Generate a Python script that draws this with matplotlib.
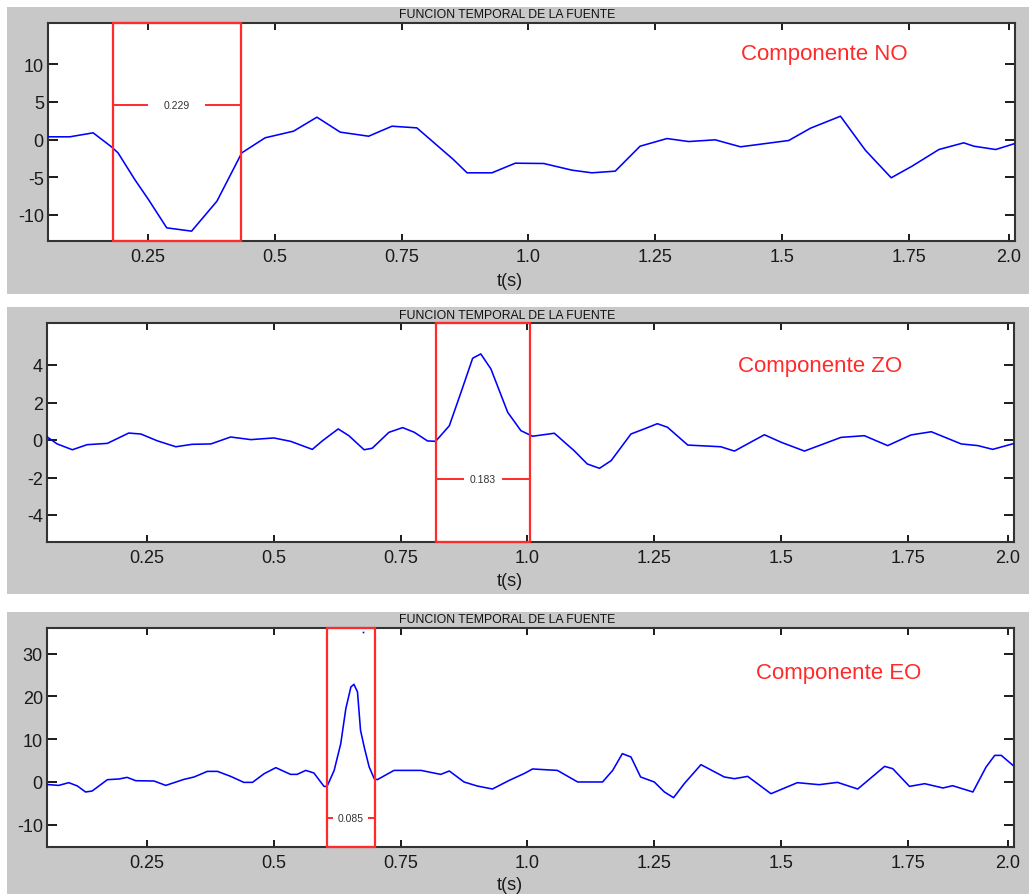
import matplotlib
matplotlib.use('Agg')
import matplotlib.pyplot as plt
from matplotlib.patches import Rectangle

plt.rcParams['font.family'] = ['Liberation Sans', 'DejaVu Sans']
plt.rcParams['axes.unicode_minus'] = False

# ---------------- data ----------------
# Componente NO
t_no = [0.052, 0.096, 0.142, 0.178, 0.191, 0.224, 0.251, 0.287, 0.336, 0.386,
        0.435, 0.481, 0.537, 0.583, 0.629, 0.685, 0.731, 0.780, 0.852, 0.879,
        0.928, 0.974, 1.030, 1.086, 1.125, 1.171, 1.220, 1.273, 1.316, 1.368,
        1.418, 1.513, 1.556, 1.615, 1.664, 1.715, 1.756, 1.809, 1.858, 1.878,
        1.921, 1.957]
a_no = [0.36, 0.36, 0.89, -0.97, -1.77, -5.32, -7.98, -11.75, -12.19, -8.2,
        -1.77, 0.23, 1.11, 2.97, 0.98, 0.44, 1.77, 1.55, -2.66, -4.43,
        -4.43, -3.15, -3.19, -4.08, -4.43, -4.21, -0.89, 0.13, -0.27, -0.04,
        -0.97, -0.13, 1.51, 3.10, -1.42, -5.09, -3.55, -1.33, -0.44, -0.89,
        -1.33, -0.57]

# Componente ZO
t_zo = [0.050, 0.073, 0.103, 0.132, 0.172, 0.214, 0.238, 0.270, 0.307, 0.339,
        0.376, 0.415, 0.455, 0.500, 0.533, 0.576, 0.596, 0.627, 0.648, 0.678,
        0.694, 0.727, 0.754, 0.777, 0.803, 0.819, 0.846, 0.869, 0.892, 0.908,
        0.928, 0.961, 0.987, 1.010, 1.053, 1.092, 1.118, 1.142, 1.165, 1.204,
        1.230, 1.256, 1.276, 1.316, 1.381, 1.408, 1.467, 1.500, 1.546, 1.618,
        1.664, 1.710, 1.756, 1.796, 1.855, 1.888, 1.917, 1.957]
a_zo = [0.23, -0.21, -0.52, -0.25, -0.18, 0.37, 0.32, -0.04, -0.36, -0.23,
        -0.21, 0.16, 0.02, 0.11, -0.07, -0.50, -0.04, 0.59, 0.23, -0.52,
        -0.44, 0.41, 0.66, 0.41, -0.05, -0.07, 0.76, 2.54, 4.36, 4.59,
        3.79, 1.48, 0.50, 0.20, 0.36, -0.57, -1.28, -1.51, -1.10, 0.32,
        0.59, 0.87, 0.68, -0.27, -0.36, -0.59, 0.28, -0.12, -0.59, 0.14,
        0.23, -0.30, 0.27, 0.44, -0.21, -0.30, -0.50, -0.20]

# Componente EO
t_eo = [0.050, 0.076, 0.096, 0.113, 0.129, 0.142, 0.172, 0.195, 0.211, 0.228,
        0.264, 0.287, 0.323, 0.343, 0.369, 0.389, 0.415, 0.441, 0.458, 0.481,
        0.504, 0.533, 0.546, 0.563, 0.579, 0.599, 0.605, 0.619, 0.632, 0.642,
        0.652, 0.658, 0.665, 0.671, 0.679, 0.688, 0.698, 0.704, 0.737, 0.763,
        0.790, 0.829, 0.846, 0.875, 0.901, 0.931, 0.964, 0.994, 1.010, 1.059,
        1.099, 1.148, 1.168, 1.187, 1.204, 1.223, 1.250, 1.270, 1.288, 1.309,
        1.342, 1.388, 1.408, 1.434, 1.480, 1.532, 1.575, 1.611, 1.651, 1.704,
        1.720, 1.753, 1.783, 1.819, 1.838, 1.878, 1.904, 1.921, 1.934, 1.957]
a_eo = [-0.56, -0.8, -0.16, -0.94, -2.34, -2.11, 0.54, 0.70, 1.08, 0.30,
        0.23, -0.8, 0.61, 1.17, 2.48, 2.48, 1.31, -0.09, -0.09, 1.94,
        3.35, 1.78, 1.78, 2.71, 2.11, -1.03, -1.03, 2.71, 8.96, 17.15,
        22.22, 22.83, 21.05, 12.07, 7.79, 3.51, 0.77, 0.54, 2.71, 2.71,
        2.71, 1.78, 2.57, 0.0, -0.94, -1.64, 0.37, 2.0, 3.04, 2.71,
        0.0, 0.0, 2.71, 6.62, 5.85, 1.17, 0.0, -2.34, -3.67, -0.40,
        4.05, 1.17, 0.77, 1.31, -2.74, -0.16, -0.63, -0.09, -1.64, 3.65,
        3.11, -1.03, -0.40, -1.40, -0.87, -2.34, 3.51, 6.22, 6.22, 3.88]
eo_dot = (0.676, 35.1)

names = ['Componente NO', 'Componente ZO', 'Componente EO']
ylims = [(-13.5, 15.5), (-5.44, 6.24), (-15.2, 36.0)]
yticks = [[-10, -5, 0, 5, 10], [-4, -2, 0, 2, 4], [-10, 0, 10, 20, 30]]
# marked pulse: start, end, level of the width bar, label
pulses = [(0.181, 0.433, 4.6, '0.229'),
          (0.820, 1.005, -2.09, '0.183'),
          (0.604, 0.699, -8.5, '0.085')]

xticks = [0.25, 0.5, 0.75, 1.0, 1.25, 1.5, 1.75, 1.947]
xticklabels = ['0.25', '0.5', '0.75', '1.0', '1.25', '1.5', '1.75', '2.0']
title = 'FUNCION TEMPORAL DE LA FUENTE'

# ---------------- layout (pixels) ----------------
W, H = 1029, 895
gray_boxes = [(7, 8, 295), (7, 308, 595), (7, 613, 895)]       # left, top, bottom
ax_boxes = [(48, 24, 1015, 242), (47, 324, 1014, 543), (47, 629, 1014, 848)]
title_y = [15, 316, 620]
xlabel_y = [282, 582, 886]
name_pos = [(0.8025, 0.862), (0.800, 0.808), (0.819, 0.795)]
half_gap = [0.058, 0.039, 0.036]

RED = '#ff2a2a'
BLUE = '#0000ff'


def draw_panel(fig, i, t, a):
    gl, gt, gb = gray_boxes[i]
    fig.patches.append(Rectangle((gl / W, 1 - gb / H), (W - gl) / W, (gb - gt) / H,
                                 transform=fig.transFigure, facecolor='#c8c8c8',
                                 edgecolor='none', zorder=-5))
    l, t_, r, b = ax_boxes[i]
    ax = fig.add_axes([l / W, 1 - b / H, (r - l) / W, (b - t_) / H], zorder=2)
    ax.set_facecolor('white')
    ax.plot(t, a, color=BLUE, linewidth=1.15, zorder=3)

    ax.set_xlim(0.053, 1.959)
    ax.set_ylim(*ylims[i])
    ax.set_xticks(xticks)
    ax.set_xticklabels(xticklabels)
    ax.set_yticks(yticks[i])
    ax.tick_params(axis='x', direction='in', length=5, width=1.4, top=True,
                   labelsize=13, pad=5, colors='#1a1a1a')
    ax.tick_params(axis='y', direction='in', length=7, width=1.4, right=True,
                   labelsize=13, pad=3, colors='#1a1a1a')
    for sp in ax.spines.values():
        sp.set_linewidth(1.5)
        sp.set_color('#333333')

    # pulse width marker
    x0, x1, lev, lab = pulses[i]
    y0, y1 = ylims[i]
    ax.add_patch(Rectangle((x0, y0), x1 - x0, y1 - y0, fill=False,
                           edgecolor=RED, linewidth=1.6, zorder=4, clip_on=False))
    xc = (x0 + x1) / 2
    ax.plot([x0, xc - half_gap[i]], [lev, lev], color=RED, linewidth=1.4, zorder=4)
    ax.plot([xc + half_gap[i], x1], [lev, lev], color=RED, linewidth=1.4, zorder=4)
    ax.text(xc, lev, lab, ha='center', va='center', fontsize=7.5, color='#333333')

    ax.text(name_pos[i][0], name_pos[i][1], names[i], transform=ax.transAxes,
            ha='center', va='center', fontsize=16, color=RED)

    fig.text(507 / W, 1 - title_y[i] / H, title, ha='center', va='center',
             fontsize=8.8, color='#111111')
    fig.text(510 / W, 1 - xlabel_y[i] / H, 't(s)', ha='center', va='center',
             fontsize=13, color='#1a1a1a')
    return ax


fig = plt.figure(figsize=(W / 100, H / 100), dpi=100)
fig.patch.set_facecolor('white')

draw_panel(fig, 0, t_no, a_no)
draw_panel(fig, 1, t_zo, a_zo)
ax3 = draw_panel(fig, 2, t_eo, a_eo)
ax3.plot([eo_dot[0]], [eo_dot[1]], 's', color=BLUE, markersize=1.2, markeredgewidth=0)

fig.savefig('out.png', dpi=100)
